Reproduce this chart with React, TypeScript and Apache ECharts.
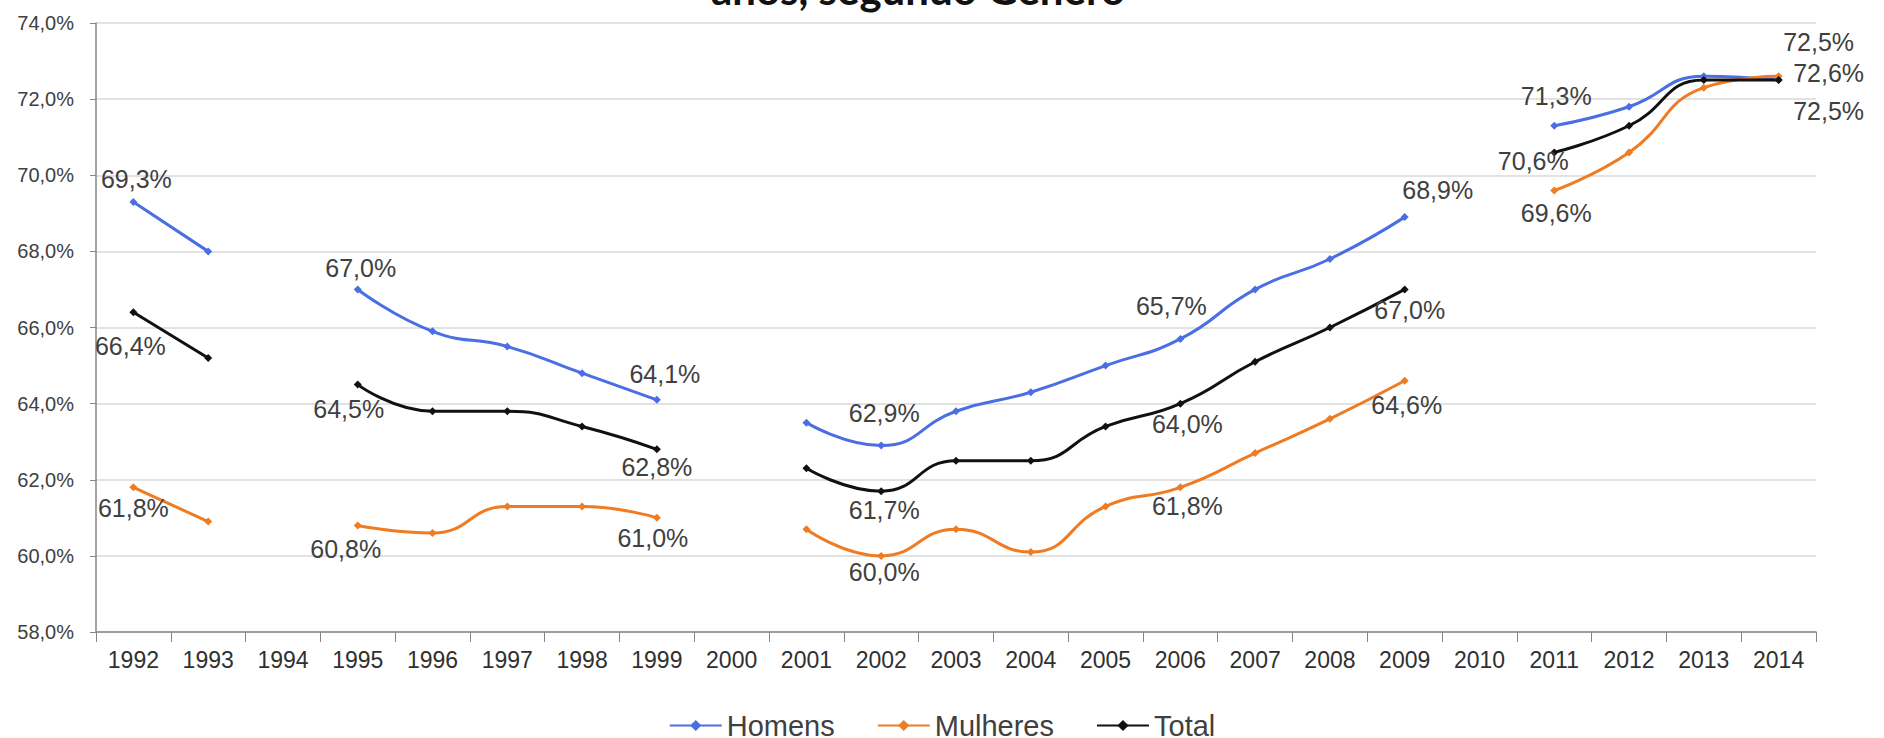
import React, { useEffect, useRef } from "react";
import * as echarts from "echarts";

// Years on the category axis
const years = [
  "1992", "1993", "1994", "1995", "1996", "1997", "1998", "1999", "2000", "2001", "2002",
  "2003", "2004", "2005", "2006", "2007", "2008", "2009", "2010", "2011", "2012", "2013", "2014",
];

// Rates (%) per year; null where the survey has no figure
const homens = [69.3, 68.0, null, 67.0, 65.9, 65.5, 64.8, 64.1, null, 63.5, 62.9, 63.8, 64.3, 65.0, 65.7, 67.0, 67.8, 68.9, null, 71.3, 71.8, 72.6, 72.5];
const mulheres = [61.8, 60.9, null, 60.8, 60.6, 61.3, 61.3, 61.0, null, 60.7, 60.0, 60.7, 60.1, 61.3, 61.8, 62.7, 63.6, 64.6, null, 69.6, 70.6, 72.3, 72.6];
const total = [66.4, 65.2, null, 64.5, 63.8, 63.8, 63.4, 62.8, null, 62.3, 61.7, 62.5, 62.5, 63.4, 64.0, 65.1, 66.0, 67.0, null, 70.6, 71.3, 72.5, 72.5];

// Y axis range
const yMin = 58;
const yMax = 74;
const yStep = 2;

const titleText = "anos, segundo Gênero";

// Which points carry a value label, and where the label sits relative to the point [index, dx, dy]
const homensLabels: [number, number, number][] = [
  [0, 3, -23], [3, 3, -21], [7, 8, -26], [10, 3, -32], [14, -9, -33], [17, 33, -27], [19, 2, -30], [22, 40, -38],
];
const mulheresLabels: [number, number, number][] = [
  [0, 0, 21], [3, -12, 24], [7, -4, 20], [10, 3, 16], [14, 7, 19], [17, 2, 24], [19, 2, 23], [22, 50, -3],
];
const totalLabels: [number, number, number][] = [
  [0, -3, 34], [3, -9, 24], [7, 0, 18], [10, 3, 19], [14, 7, 20], [17, 5, 21], [19, -21, 9], [22, 50, 31],
];

const FONT = "'Liberation Sans', Arial, sans-serif";
const pct = (v: number) => v.toFixed(1).replace(".", ",") + "%";

function buildData(values: (number | null)[], spots: [number, number, number][]) {
  return values.map((v, i) => {
    const spot = spots.find((s) => s[0] === i);
    if (v == null) return null;
    if (!spot) return v;
    return {
      value: v,
      label: {
        show: true,
        position: "inside",
        offset: [spot[1], spot[2]],
        formatter: (p: any) => pct(p.value),
        fontSize: 25,
        fontFamily: FONT,
        color: "#404040",
      },
    };
  });
}

function lineSeries(name: string, color: string, values: (number | null)[], spots: [number, number, number][]) {
  return {
    name,
    type: "line",
    data: buildData(values, spots),
    smooth: true,
    connectNulls: false,
    symbol: "diamond",
    symbolSize: 8,
    lineStyle: { color, width: 3 },
    itemStyle: { color },
    label: { show: false },
  };
}

export default function App() {
  const ref = useRef<HTMLDivElement>(null);

  useEffect(() => {
    if (!ref.current) return;
    const chart = echarts.init(ref.current, undefined, { renderer: "svg" });
    chart.setOption({
      animation: false,
      backgroundColor: "#ffffff",
      textStyle: { fontFamily: FONT },
      graphic: [
        {
          type: "text",
          x: 918,
          y: -11,
          style: {
            text: titleText,
            font: "bold 42px Lato, 'Open Sans', sans-serif",
            fill: "#111111",
            textAlign: "center",
            textVerticalAlign: "middle",
          },
        },
      ],
      grid: { left: 96, right: 68, top: 23, bottom: 106, containLabel: false },
      legend: {
        top: 706,
        left: "center",
        itemWidth: 52,
        itemHeight: 14,
        itemGap: 42,
        textStyle: { fontSize: 29, color: "#404040", fontFamily: FONT },
        data: ["Homens", "Mulheres", "Total"],
      },
      xAxis: {
        type: "category",
        data: years,
        boundaryGap: true,
        axisLine: { lineStyle: { color: "#868686", width: 1.5 } },
        axisTick: { show: true, length: 10, alignWithLabel: false, lineStyle: { color: "#868686" } },
        axisLabel: { interval: 0, fontSize: 23, color: "#303030", margin: 16, fontFamily: FONT },
        splitLine: { show: false },
      },
      yAxis: {
        type: "value",
        min: yMin,
        max: yMax,
        interval: yStep,
        axisLine: { show: true, lineStyle: { color: "#868686", width: 1.5 } },
        axisTick: { show: true, length: 6, lineStyle: { color: "#868686" } },
        axisLabel: { fontSize: 20, color: "#404040", margin: 22, fontFamily: FONT, formatter: (v: number) => pct(v) },
        splitLine: { lineStyle: { color: "#d9d9d9", width: 1.5 } },
      },
      series: [
        lineSeries("Homens", "#4a6fe3", homens, homensLabels),
        lineSeries("Mulheres", "#ef7b22", mulheres, mulheresLabels),
        lineSeries("Total", "#111111", total, totalLabels),
      ],
    });
    return () => chart.dispose();
  }, []);

  return (
    <div
      ref={ref}
      style={{ position: "fixed", left: 0, top: 0, width: 1884, height: 738, background: "#fff" }}
    />
  );
}
